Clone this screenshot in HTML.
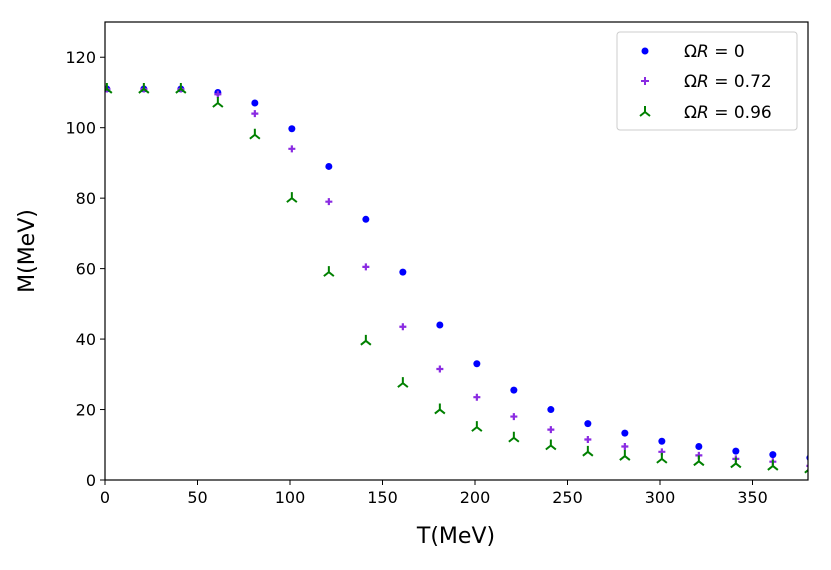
<!DOCTYPE html>
<html><head><meta charset="utf-8"><style>
body{margin:0;background:#fff;font-family:"Liberation Sans","DejaVu Sans",sans-serif}
svg text{font-family:"DejaVu Sans","Liberation Sans",sans-serif}
</style></head><body>
<svg id="chart" width="831" height="565">
<defs><clipPath id="clip"><rect x="105" y="22" width="703" height="458"/></clipPath></defs>
<rect x="0" y="0" width="831" height="565" fill="#fff"/>
<g id="marks" clip-path="url(#clip)"></g>
<rect x="105" y="22" width="703" height="458" fill="none" stroke="#000" stroke-width="1.2"/>
<g id="axes"></g>
<text x="456" y="543" font-size="22" text-anchor="middle">T(MeV)</text>
<text x="34" y="251" font-size="22" text-anchor="middle" transform="rotate(-90 34 251)">M(MeV)</text>
<g>
<rect x="617" y="32" width="180" height="98" rx="3" fill="#fff" stroke="#ccc"/>
<circle cx="645" cy="51" r="3.5" fill="#0000ff"/>
<text x="684" y="57" font-size="17">Ω<tspan font-style="italic">R</tspan> = 0</text>
<g stroke="#8a2be2" stroke-width="2"><line x1="641" y1="81" x2="649" y2="81"/><line x1="645" y1="77" x2="645" y2="85"/></g>
<text x="684" y="87" font-size="17">Ω<tspan font-style="italic">R</tspan> = 0.72</text>
<g stroke="#008000" stroke-width="2"><line x1="645" y1="112" x2="645" y2="106"/><line x1="645" y1="112" x2="640" y2="116"/><line x1="645" y1="112" x2="650" y2="116"/></g>
<text x="684" y="118" font-size="17">Ω<tspan font-style="italic">R</tspan> = 0.96</text>
</g>
</svg>
<script>
const temps=[1,21,41,61,81,101,121,141,161,181,201,221,241,261,281,301,321,341,361,381];
const massOmega0=[111,111,111,110,107,99.7,89,74,59,44,33,25.5,20,16,13.3,11,9.5,8.2,7.2,6.3];
const massOmega072=[111,111,111,109.5,104,94,79,60.5,43.5,31.5,23.5,18,14.3,11.5,9.5,8,7,6,5.2,4];
const massOmega096=[111,111,111,107,98,80,59,39.5,27.5,20,15,12,9.8,8,6.8,6,5.3,4.7,4,3.2];
const xTicks=[0,50,100,150,200,250,300,350];
const yTicks=[0,20,40,60,80,100,120];
const NS="http://www.w3.org/2000/svg";
const xs=v=>105+v*(703/380), ys=v=>480-v*(458/130);
const marks=document.getElementById('marks'), axes=document.getElementById('axes');
function mk(tag,attrs,parent){const e=document.createElementNS(NS,tag);for(const k in attrs)e.setAttribute(k,attrs[k]);parent.appendChild(e);return e;}
xTicks.forEach(t=>{
 const l=mk('line',{x1:xs(t),x2:xs(t),y1:480,y2:485,stroke:'#000'},axes);
 
 
 const tx=mk('text',{x:xs(t),y:503,'font-size':16,'text-anchor':'middle'},axes);tx.textContent=t;
 
 
});
yTicks.forEach(t=>{
 const l=mk('line',{x1:100,x2:105,y1:ys(t),y2:ys(t),stroke:'#000'},axes);
 
 
 const tx=mk('text',{x:96,y:ys(t)+6,'font-size':16,'text-anchor':'end'},axes);tx.textContent=t;
 
 
});
temps.forEach((t,i)=>{
 const c=mk('circle',{cx:xs(t),cy:ys(massOmega0[i]),r:3.5,fill:'#0000ff'},marks);
 
 
 const x=xs(t),y=ys(massOmega072[i]);
 const p=mk('path',{d:`M${x-3.5} ${y}H${x+3.5}M${x} ${y-3.5}V${y+3.5}`,stroke:'#8a2be2','stroke-width':2.2},marks);
 
 
 const gx=xs(t),gy=ys(massOmega096[i]);
 const g=mk('path',{d:`M${gx} ${gy}V${gy-6}M${gx} ${gy}L${gx-5} ${gy+4}M${gx} ${gy}L${gx+5} ${gy+4}`,stroke:'#008000','stroke-width':2,fill:'none'},marks);
 
 
});
</script>
</body></html>
